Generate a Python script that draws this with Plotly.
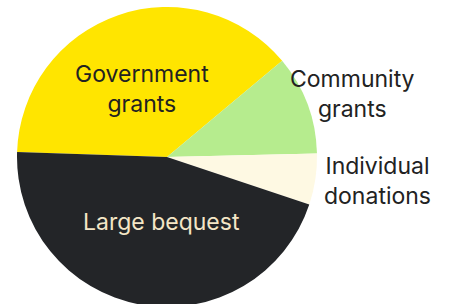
import plotly.graph_objects as go

labels = ["Government<br>grants", "Community<br>grants", "Individual<br>donations", "Large bequest"]
values = [38.4, 10.7, 5.5, 45.4]
colors = ["#FFE500", "#B6EC8E", "#FEF9E3", "#232528"]
text_colors = ["#222222", "#222222", "#222222", "#F4E6C6"]
# label anchor points (paper fractions of the pie's square plot area)
label_pos = [(0.417, 0.727), (1.117, 0.71), (1.2, 0.42), (0.483, 0.283)]

fig = go.Figure(go.Pie(
    labels=labels,
    values=values,
    sort=False,
    direction="clockwise",
    rotation=271.9,
    marker=dict(colors=colors, line=dict(width=0)),
    textinfo="none",
    showlegend=False,
    hoverinfo="skip",
))

for lab, (ax, ay), col in zip(labels, label_pos, text_colors):
    fig.add_annotation(
        text=lab, x=ax, y=ay, xref="paper", yref="paper",
        xanchor="center", yanchor="middle", showarrow=False,
        font=dict(family="Inter", size=23, color=col),
    )

fig.update_layout(
    width=449, height=310,
    margin=dict(l=17, r=132, t=7, b=3),
    paper_bgcolor="white",
    plot_bgcolor="white",
)

fig.write_html(
    "out.html",
    config={"displayModeBar": False},
    post_script="document.body.style.margin='0';document.body.style.overflow='hidden';",
)
